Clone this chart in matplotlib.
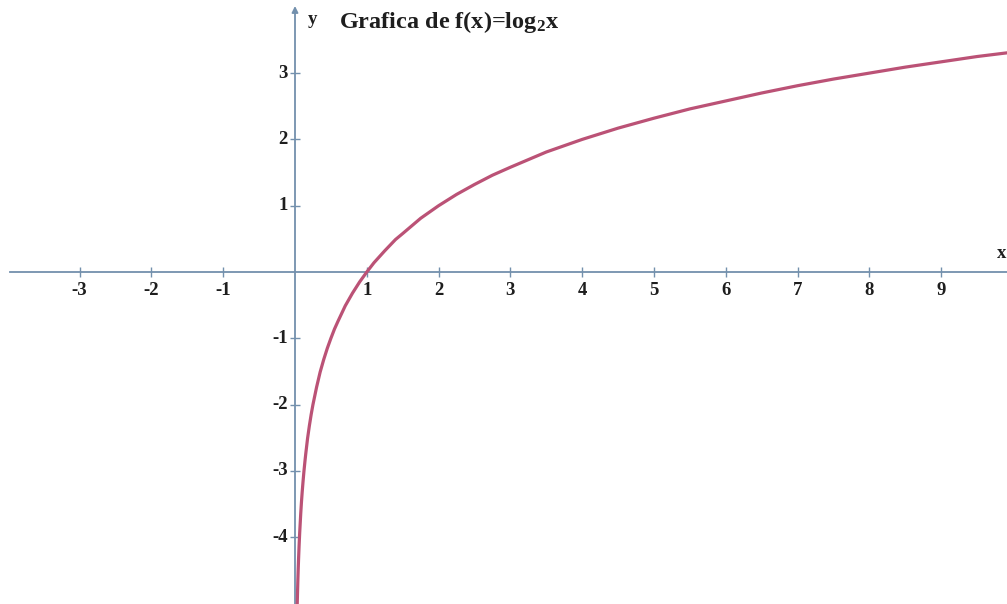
import matplotlib
matplotlib.use("Agg")
import matplotlib.pyplot as plt

plt.rcParams["mathtext.fontset"] = "custom"
plt.rcParams["mathtext.rm"] = "Liberation Serif:bold"
plt.rcParams["mathtext.it"] = "Liberation Serif:bold"
plt.rcParams["mathtext.bf"] = "Liberation Serif:bold"

# Data
curve_x = [0.031, 0.035, 0.04, 0.045, 0.05, 0.057, 0.065, 0.072, 0.08, 0.09, 0.1, 0.112,
           0.125, 0.14, 0.15, 0.175, 0.2, 0.225, 0.25, 0.3, 0.35, 0.4, 0.45, 0.5, 0.55,
           0.6, 0.7, 0.8, 0.9, 1.0, 1.1, 1.25, 1.4, 1.5, 1.75, 2.0, 2.25, 2.5, 2.75,
           3.0, 3.5, 4.0, 4.5, 5.0, 5.5, 6.0, 6.5, 7.0, 7.5, 8.0, 8.5, 9.0, 9.5, 9.95]
curve_y = [-5.01, -4.84, -4.64, -4.47, -4.32, -4.13, -3.94, -3.80, -3.64, -3.47, -3.32, -3.16,
           -3.00, -2.84, -2.74, -2.51, -2.32, -2.15, -2.00, -1.74, -1.51, -1.32, -1.15, -1.00, -0.86,
           -0.74, -0.51, -0.32, -0.15, 0.00, 0.14, 0.32, 0.49, 0.58, 0.81, 1.00, 1.17, 1.32, 1.46,
           1.58, 1.81, 2.00, 2.17, 2.32, 2.46, 2.58, 2.70, 2.81, 2.91, 3.00, 3.09, 3.17, 3.25, 3.31]
xticks = [-3, -2, -1, 1, 2, 3, 4, 5, 6, 7, 8, 9]
yticks = [3, 2, 1, -1, -2, -3, -4]
title = r"Grafica de f(x)=log$_{\mathrm{2}}$x"

W, H = 1007, 604
fig = plt.figure(figsize=(W / 100, H / 100), dpi=100)
ax = fig.add_axes([0, 0, 1, 1])
ax.set_axis_off()

x0px, y0px = 295, 272
ux, uy = 71.8, 66.3
ax.set_xlim(-x0px / ux, (W - x0px) / ux)
ax.set_ylim(-(H - y0px) / uy, y0px / uy)

axis_col = "#7390ad"
curve_col = "#bb5276"
txt_col = "#1e1e1e"
font = dict(family="Liberation Serif", weight="bold")

def px_x(p):
    return (p - x0px) / ux

def px_y(p):
    return (y0px - p) / uy

# axes
ax.plot([px_x(10), px_x(W)], [0, 0], color=axis_col, lw=1.3, zorder=1)
ax.annotate("", xy=(0, px_y(6)), xytext=(0, px_y(H)),
            arrowprops=dict(arrowstyle="-|>", color=axis_col, lw=1.3,
                            mutation_scale=9, shrinkA=0, shrinkB=0), zorder=1)

# tick marks
ax.plot(xticks, [0] * len(xticks), ls="none", marker="|", ms=7, mew=1,
        color=axis_col, zorder=1)
ax.plot([0] * len(yticks), yticks, ls="none", marker="_", ms=7, mew=1,
        color=axis_col, zorder=1)

for t in xticks:
    ax.annotate(f"{t}", (t, 0), xytext=(0, -10), textcoords="offset pixels",
                ha="center", va="top", fontsize=13.5, color=txt_col, **font)
for t in yticks:
    ax.annotate(f"{t}", (0, t), xytext=(-7, 0), textcoords="offset pixels",
                ha="right", va="center", fontsize=13.5, color=txt_col, **font)

# curve
ax.plot(curve_x, curve_y, color=curve_col, lw=2.3, zorder=2, solid_capstyle="butt")

# labels
ax.text(px_x(312), px_y(20), "y", ha="center", va="center",
        fontsize=13.5, color=txt_col, **font)
ax.text(px_x(339), px_y(22), title, ha="left", va="center",
        fontsize=17.5, color=txt_col, **font)
ax.text(px_x(997), px_y(253), "x", ha="left", va="center",
        fontsize=13.5, color=txt_col, **font)

fig.savefig("out.png", dpi=100)
